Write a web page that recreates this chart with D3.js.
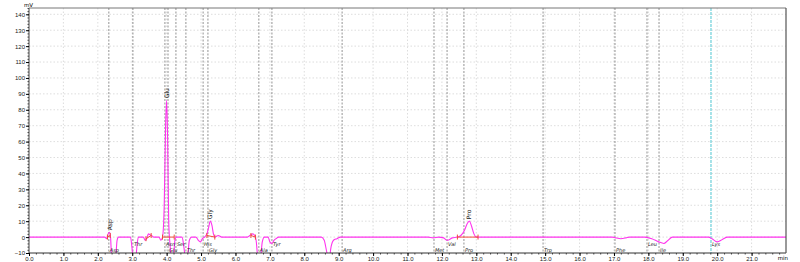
<!DOCTYPE html>
<html>
<head>
<meta charset="utf-8">
<script src="https://cdn.jsdelivr.net/npm/d3@7"></script>
<style>
  body { margin: 0; background: #fff; }
  svg { display: block; font-family: "DejaVu Sans", sans-serif; }
  .grid line { stroke: #d4d4d4; stroke-width: 0.8; stroke-dasharray: 1.5,2; }
  .comp { stroke: #777; stroke-width: 0.8; stroke-dasharray: 2,1.5; }
  .tick text { font-size: 6px; fill: #222; }
  .trace { fill: none; stroke: #ff33ee; stroke-width: 1.1; }
  .base { stroke: #f04a3a; stroke-width: 1; fill: none; }
  .lbl { font-size: 5px; fill: #222; font-style: italic; }
  .plbl { font-size: 6px; fill: #111; }
</style>
</head>
<body>
<svg width="800" height="262"></svg>
<script>
// chromatogram trace (min, mV)
var times = [0, 2.2, 2.26, 2.3, 2.34, 2.37, 2.4, 2.46, 2.52, 2.56, 2.6,
  2.95, 2.99, 3.03, 3.1, 3.14, 3.18, 3.32, 3.38, 3.42, 3.47, 3.52, 3.56, 3.62,
  3.78, 3.83, 3.88, 3.93, 3.97, 4.0, 4.03, 4.06, 4.1, 4.14, 4.2, 4.24, 4.28,
  4.45, 4.5, 4.55, 4.62, 4.66, 4.72, 4.85, 4.92, 4.98, 5.04, 5.1,
  5.17, 5.22, 5.27, 5.32, 5.36, 5.4, 5.5, 5.6, 6.35, 6.42, 6.5, 6.56, 6.6,
  6.66, 6.72, 6.78, 6.84, 6.95, 7.0, 7.06, 7.12, 7.18, 7.25,
  8.5, 8.58, 8.66, 8.72, 8.78, 8.85, 8.95, 9.05,
  11.6, 11.75, 11.9, 12.05, 12.15, 12.22, 12.3, 12.45, 12.55, 12.65, 12.75, 12.8, 12.86, 12.93, 13.0,
  16.95, 17.05, 17.2, 17.35, 17.45, 17.9, 18.1, 18.3, 18.45, 18.55, 18.7,
  19.75, 19.85, 20.0, 20.15, 20.3, 22];
var signal = [0, 0, -1, 2, 3, 0, -12, -14, -12, -2, 0,
  0, -6, -14, -14, -5, 0, 0, -2, -1, 2, 1.5, 1, 0,
  0, -2, 0, 20, 70, 86, 60, 10, -5, -14, -12, -2, 0,
  0, -6, -14, -10, -2, 0, 0, -2, -3, -1, 0,
  2, 6, 10, 7, 2, 0, 1, 0, 0, 1, 2, 1, -2,
  -14, -14, -3, 0, 0, -3, -4, -2, -1, 0,
  0, -2, -10, -14, -6, -2, -1, 0,
  0, -0.5, 0, -0.5, -2, -1.5, -0.5, 0, 1, 4, 9, 10, 7, 2, 0,
  0, -0.5, -1, -0.5, 0, 0, -1, -3, -4, -2.5, 0,
  0, -1, -3, -1.5, 0, 0];

// component windows (dashed lines) and their names
var compTimes = [2.32, 3.02, 3.95, 4.04, 4.27, 4.56, 5.06, 5.2, 6.68, 7.06, 9.1,
  11.77, 12.15, 12.64, 14.94, 17.03, 17.96, 18.31, 19.82];
var compNames = ["Asp", "Thr", "Asn", "Glu", "Ser", "Thr", "His", "Gly", "Ala", "Tyr", "Arg",
  "Met", "Val", "Pro", "Trp", "Phe", "Leu", "Ile", "Lys"];
var compRow = [0, 1, 1, 0, 1, 0, 1, 0, 0, 1, 0, 0, 1, 0, 0, 0, 1, 0, 1];

// identified peaks
var peakNames = ["Asp", "Glu", "Gly", "Pro"];
var peakTimes = [2.34, 4.0, 5.27, 12.8];
var peakValues = [3, 86, 10, 10];

// integration baselines
var baseStart = [[2.28, 0], [3.4, -1], [3.88, 0], [5.17, 1], [6.45, 1], [12.45, 0]];
var baseEnd = [[2.36, 1], [3.55, 1], [4.22, 0], [5.4, 0], [6.58, 0], [13.05, 0]];

var xTicks = d3.range(0, 22, 1);
var yTicks = d3.range(-10, 141, 10);

var svg = d3.select("svg");
var mLeft = 29, mRight = 786, mTop = 8, mBottom = 253;

var x = d3.scaleLinear().domain([0, 22]).range([mLeft, mRight]);
var y = d3.scaleLinear().domain([-10, 140]).range([mBottom, 14.3]);

svg.append("defs").append("clipPath").attr("id", "clip")
  .append("rect").attr("x", mLeft).attr("y", mTop).attr("width", mRight - mLeft).attr("height", mBottom - mTop);

// grid
var grid = svg.append("g").attr("class", "grid");
grid.selectAll(".gx").data(xTicks.slice(1)).enter().append("line")
  .attr("x1", d => x(d)).attr("x2", d => x(d)).attr("y1", mTop).attr("y2", mBottom);
grid.selectAll(".gy").data(yTicks.slice(1)).enter().append("line")
  .attr("x1", mLeft).attr("x2", mRight).attr("y1", d => y(d)).attr("y2", d => y(d));

// component lines
svg.selectAll(".comp").data(compTimes).enter().append("line")
  .attr("class", "comp")
  .attr("x1", d => x(d)).attr("x2", d => x(d)).attr("y1", mTop).attr("y2", mBottom)
  .style("stroke", (d, i) => i === compTimes.length - 1 ? "#22b8c8" : null)
  .style("stroke-dasharray", (d, i) => i === compTimes.length - 1 ? "3,1" : null);

var line = d3.line().x(d => x(d[0])).y(d => y(d[1])).curve(d3.curveMonotoneX);
var pts = times.map((t, i) => [t, signal[i]]);

svg.append("path").datum(pts).attr("class", "trace")
  .attr("clip-path", "url(#clip)").attr("d", line);

// integration baselines and markers
var bs = svg.append("g").attr("class", "base");
baseStart.forEach(function(s, i) {
  var e = baseEnd[i];
  bs.append("line").attr("x1", x(s[0])).attr("x2", x(e[0])).attr("y1", y(s[1])).attr("y2", y(e[1]));
  [s, e].forEach(function(p) {
    bs.append("line").attr("x1", x(p[0])).attr("x2", x(p[0])).attr("y1", y(p[1]) - 2.5).attr("y2", y(p[1]) + 2.5);
  });
});

// component labels
svg.selectAll(".lbl").data(compNames).enter().append("text")
  .attr("class", "lbl")
  .attr("x", (d, i) => x(compTimes[i]) + 1)
  .attr("y", (d, i) => compRow[i] ? 246 : 251.5)
  .text(d => d);

// peak labels
svg.selectAll(".plbl").data(peakNames).enter().append("text")
  .attr("class", "plbl")
  .attr("transform", (d, i) => "translate(" + (x(peakTimes[i]) + 2) + "," + (y(peakValues[i]) - 2) + ") rotate(-90)")
  .text(d => d);

// axes
var yAxis = d3.axisLeft(y).tickValues(yTicks).tickSize(3).tickPadding(1).tickFormat(d3.format("d"));
var yMinor = d3.axisLeft(y).tickValues(d3.range(-10, 145, 2)).tickSize(1.5).tickFormat("");
svg.append("g").attr("transform", "translate(" + mLeft + ",0)").call(yMinor)
  .call(g => g.select(".domain").remove()).selectAll("line").attr("stroke", "#444");
svg.append("g").attr("transform", "translate(" + mLeft + ",0)").call(yAxis)
  .call(g => g.select(".domain").attr("d", "M0," + mTop + "V" + mBottom).attr("stroke", "#444"));

var xAxis = d3.axisBottom(x).tickValues(xTicks).tickSize(3).tickPadding(1).tickFormat(d3.format(".1f"));
var xMinor = d3.axisBottom(x).tickValues(d3.range(0, 22, 0.2)).tickSize(1.5).tickFormat("");
svg.append("g").attr("transform", "translate(0," + mBottom + ")").call(xMinor)
  .call(g => g.select(".domain").remove()).selectAll("line").attr("stroke", "#444");
svg.append("g").attr("transform", "translate(0," + mBottom + ")").call(xAxis)
  .call(g => g.select(".domain").attr("d", "M" + mLeft + ",0H" + mRight).attr("stroke", "#333"));

// frame
svg.append("line").attr("x1", mLeft).attr("x2", mRight).attr("y1", mTop).attr("y2", mTop)
  .attr("stroke", "#777").attr("stroke-width", 1);
svg.append("line").attr("x1", mRight).attr("x2", mRight).attr("y1", mTop).attr("y2", mBottom)
  .attr("stroke", "#555").attr("stroke-width", 1.2);

svg.append("text").attr("x", 24).attr("y", 7).attr("font-size", 5.5).text("mV");
svg.append("text").attr("x", 788).attr("y", 260).attr("font-size", 5.5).attr("text-anchor", "end").text("min");
</script>
</body>
</html>
